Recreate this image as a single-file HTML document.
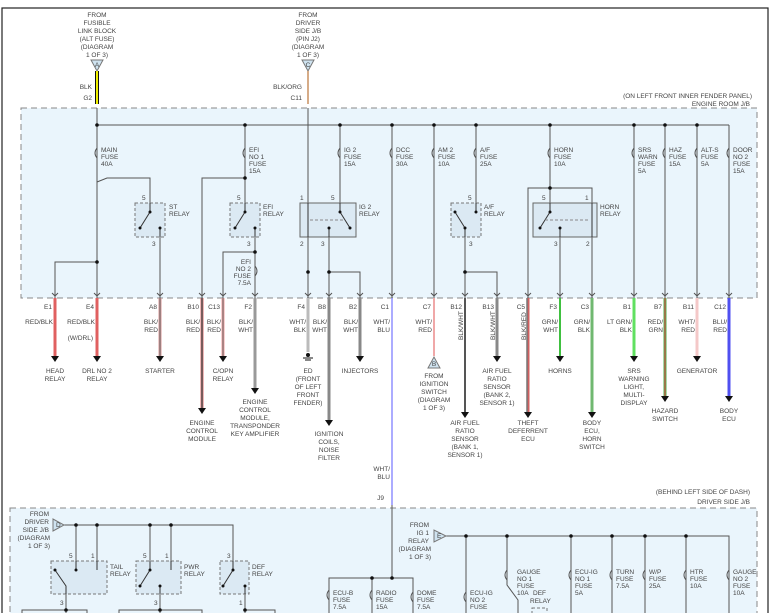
<!DOCTYPE html>
<html><head><meta charset="utf-8"><style>
html,body{margin:0;padding:0;background:#fff;}
svg{display:block;}
text{font-family:"Liberation Sans",sans-serif;font-size:6.5px;fill:#444;}
</style></head><body>
<svg width="771" height="613" viewBox="0 0 771 613" xmlns="http://www.w3.org/2000/svg">
<rect x="2" y="8" width="766" height="610" fill="none" stroke="#222" stroke-width="1.2"/>
<rect x="21" y="108" width="736" height="190" fill="#eaf5fc" stroke="#888" stroke-dasharray="6,4"/>
<rect x="10" y="508" width="747" height="110" fill="#eaf5fc" stroke="#888" stroke-dasharray="6,4"/>

<g text-anchor="middle">
<text x="97" y="17">FROM</text><text x="97" y="25">FUSIBLE</text><text x="97" y="33">LINK BLOCK</text><text x="97" y="41">(ALT FUSE)</text><text x="97" y="49">(DIAGRAM</text><text x="97" y="57">1 OF 3)</text>
<text x="308" y="17">FROM</text><text x="308" y="25">DRIVER</text><text x="308" y="33">SIDE J/B</text><text x="308" y="41">(PIN J2)</text><text x="308" y="49">(DIAGRAM</text><text x="308" y="57">1 OF 3)</text>
</g>
<path d="M91,60 L103,60 L97,71z" fill="#cfe3f0" stroke="#777"/><text x="97" y="67" text-anchor="middle" font-size="5">A</text>
<path d="M302,60 L314,60 L308,71z" fill="#cfe3f0" stroke="#777"/><text x="308" y="67" text-anchor="middle" font-size="5">C</text>
<line x1="97" y1="71" x2="97" y2="104" stroke="#111" stroke-width="4"/>
<line x1="97" y1="71" x2="97" y2="104" stroke="#f0f000" stroke-width="2"/>
<line x1="308" y1="71" x2="308" y2="104" stroke="#c89060" stroke-width="1.5"/>
<text x="92" y="89" text-anchor="end">BLK</text><text x="92" y="100" text-anchor="end">G2</text>
<text x="302" y="89" text-anchor="end">BLK/ORG</text><text x="302" y="100" text-anchor="end">C11</text>
<text x="752" y="98" text-anchor="end">(ON LEFT FRONT INNER FENDER PANEL)</text>
<text x="750" y="106" text-anchor="end">ENGINE ROOM J/B</text>

<g stroke="#555" stroke-width="1" fill="none">
<line x1="97" y1="108" x2="97" y2="298"/>
<line x1="97" y1="125" x2="729" y2="125"/>
<line x1="308" y1="108" x2="308" y2="298"/>
<path d="M97,182 L107,178 L150,178 L150,203"/>
<path d="M97,262 L55,262 L55,298"/>
<line x1="160" y1="227" x2="160" y2="298"/>
<line x1="245" y1="125" x2="245" y2="203"/>
<path d="M245,178 L202,178 L202,298"/>
<line x1="255" y1="237" x2="255" y2="298"/>
<path d="M255,252 L223,252 L223,298"/>
<line x1="340" y1="125" x2="340" y2="203"/>
<line x1="329" y1="237" x2="329" y2="298"/>
<path d="M329,272 L360,272 L360,298"/>
<line x1="392" y1="125" x2="392" y2="298"/>
<line x1="434" y1="125" x2="434" y2="298"/>
<line x1="476" y1="125" x2="476" y2="203"/>
<line x1="465" y1="237" x2="465" y2="298"/>
<path d="M465,272 L497,272 L497,298"/>
<line x1="550" y1="125" x2="550" y2="203"/>
<path d="M528,298 L528,188 L592,188 L592,203"/>
<line x1="560" y1="237" x2="560" y2="298"/>
<line x1="592" y1="237" x2="592" y2="298"/>
<line x1="634" y1="125" x2="634" y2="298"/>
<line x1="665" y1="125" x2="665" y2="298"/>
<line x1="697" y1="125" x2="697" y2="298"/>
<line x1="729" y1="125" x2="729" y2="298"/>
</g>
<g fill="#111">
<circle cx="97" cy="125" r="1.8"/><circle cx="245" cy="125" r="1.8"/><circle cx="340" cy="125" r="1.8"/><circle cx="392" cy="125" r="1.8"/><circle cx="434" cy="125" r="1.8"/><circle cx="476" cy="125" r="1.8"/><circle cx="550" cy="125" r="1.8"/><circle cx="634" cy="125" r="1.8"/><circle cx="665" cy="125" r="1.8"/><circle cx="697" cy="125" r="1.8"/>
<circle cx="97" cy="262" r="1.8"/><circle cx="245" cy="178" r="1.8"/><circle cx="255" cy="252" r="1.8"/><circle cx="308" cy="272" r="1.8"/><circle cx="329" cy="272" r="1.8"/><circle cx="465" cy="272" r="1.8"/><circle cx="550" cy="188" r="1.8"/>
</g>
<g fill="none" stroke="#555">
<path d="M97,148 q-4,5 0,10"/><path d="M245,148 q-4,5 0,10"/><path d="M340,148 q-4,5 0,10"/><path d="M392,148 q-4,5 0,10"/><path d="M434,148 q-4,5 0,10"/><path d="M476,148 q-4,5 0,10"/><path d="M550,148 q-4,5 0,10"/><path d="M634,148 q-4,5 0,10"/><path d="M665,148 q-4,5 0,10"/><path d="M697,148 q-4,5 0,10"/><path d="M729,148 q-4,5 0,10"/><path d="M255,266 q4,5 0,10"/>
</g>
<g font-size="6">
<text x="101" y="152">MAIN</text><text x="101" y="159">FUSE</text><text x="101" y="166">40A</text>
<text x="249" y="152">EFI</text><text x="249" y="159">NO 1</text><text x="249" y="166">FUSE</text><text x="249" y="173">15A</text>
<text x="344" y="152">IG 2</text><text x="344" y="159">FUSE</text><text x="344" y="166">15A</text>
<text x="396" y="152">DCC</text><text x="396" y="159">FUSE</text><text x="396" y="166">30A</text>
<text x="438" y="152">AM 2</text><text x="438" y="159">FUSE</text><text x="438" y="166">10A</text>
<text x="480" y="152">A/F</text><text x="480" y="159">FUSE</text><text x="480" y="166">25A</text>
<text x="554" y="152">HORN</text><text x="554" y="159">FUSE</text><text x="554" y="166">10A</text>
<text x="638" y="152">SRS</text><text x="638" y="159">WARN</text><text x="638" y="166">FUSE</text><text x="638" y="173">5A</text>
<text x="669" y="152">HAZ</text><text x="669" y="159">FUSE</text><text x="669" y="166">15A</text>
<text x="701" y="152">ALT-S</text><text x="701" y="159">FUSE</text><text x="701" y="166">5A</text>
<text x="733" y="152">DOOR</text><text x="733" y="159">NO 2</text><text x="733" y="166">FUSE</text><text x="733" y="173">15A</text>
<text x="251" y="264" text-anchor="end">EFI</text><text x="251" y="271" text-anchor="end">NO 2</text><text x="251" y="278" text-anchor="end">FUSE</text><text x="251" y="285" text-anchor="end">7.5A</text>
</g>
<g fill="none" stroke="#777" stroke-dasharray="3,2">
<rect x="135" y="203" width="30" height="34" fill="#dbe9f3"/>
<rect x="230" y="203" width="30" height="34" fill="#dbe9f3"/>
<rect x="451" y="203" width="30" height="34" fill="#dbe9f3"/>
</g>
<rect x="300" y="203" width="56" height="34" fill="#dbe9f3" stroke="#666"/>
<rect x="533" y="203" width="64" height="34" fill="#dbe9f3" stroke="#666"/>
<g stroke="#333" fill="none">
<path d="M150,203 L150,212"/><path d="M150,212 L140,228"/><line x1="160" y1="228" x2="160" y2="237"/>
<path d="M245,203 L245,212 L235,228"/><line x1="255" y1="228" x2="255" y2="237"/>
<path d="M308,203 L308,237"/><path d="M340,203 L340,212 L350,228"/><line x1="329" y1="228" x2="329" y2="237"/>
<line x1="310" y1="220" x2="345" y2="220" stroke-dasharray="3,2" stroke="#888"/>
<path d="M476,203 L476,212"/><path d="M455,212 L465,228 L465,237"/>
<path d="M550,203 L550,212 L540,228"/><line x1="560" y1="228" x2="560" y2="237"/><path d="M592,203 L592,237"/>
<line x1="545" y1="220" x2="590" y2="220" stroke-dasharray="3,2" stroke="#888"/>
</g>
<g fill="#111"><circle cx="150" cy="212" r="1.5"/><circle cx="140" cy="228" r="1.5"/><circle cx="160" cy="228" r="1.5"/><circle cx="245" cy="212" r="1.5"/><circle cx="235" cy="228" r="1.5"/><circle cx="255" cy="228" r="1.5"/><circle cx="340" cy="212" r="1.5"/><circle cx="350" cy="228" r="1.5"/><circle cx="329" cy="228" r="1.5"/><circle cx="476" cy="212" r="1.5"/><circle cx="455" cy="212" r="1.5"/><circle cx="465" cy="228" r="1.5"/><circle cx="550" cy="212" r="1.5"/><circle cx="540" cy="228" r="1.5"/><circle cx="560" cy="228" r="1.5"/></g>
<g font-size="6">
<text x="169" y="209">ST</text><text x="169" y="216">RELAY</text>
<text x="263" y="209">EFI</text><text x="263" y="216">RELAY</text>
<text x="359" y="209">IG 2</text><text x="359" y="216">RELAY</text>
<text x="484" y="209">A/F</text><text x="484" y="216">RELAY</text>
<text x="600" y="209">HORN</text><text x="600" y="216">RELAY</text>
<text x="142" y="200">5</text><text x="152" y="246">3</text><text x="237" y="200">5</text><text x="247" y="246">3</text>
<text x="300" y="200">1</text><text x="331" y="200">5</text><text x="300" y="246">2</text><text x="321" y="246">3</text>
<text x="468" y="200">5</text><text x="469" y="246">3</text><text x="542" y="200">5</text><text x="585" y="200">1</text><text x="554" y="246">3</text><text x="586" y="246">2</text>
</g>

<g text-anchor="end" font-size="6.5">
<text x="52" y="309">E1</text><text x="94" y="309">E4</text><text x="157" y="309">A8</text><text x="199" y="309">B10</text><text x="220" y="309">C13</text><text x="252" y="309">F2</text><text x="305" y="309">F4</text><text x="326" y="309">B8</text><text x="357" y="309">B2</text><text x="389" y="309">C1</text><text x="431" y="309">C7</text><text x="462" y="309">B12</text><text x="494" y="309">B13</text><text x="525" y="309">C5</text><text x="557" y="309">F3</text><text x="589" y="309">C3</text><text x="631" y="309">B1</text><text x="662" y="309">B7</text><text x="694" y="309">B11</text><text x="726" y="309">C12</text>
</g>
<g text-anchor="end" font-size="6.5">
<text x="53" y="324">RED/BLK</text><text x="95" y="324">RED/BLK</text><text x="93" y="340">(W/DRL)</text>
<text x="158" y="324">BLK/</text><text x="158" y="332">RED</text>
<text x="200" y="324">BLK/</text><text x="200" y="332">RED</text>
<text x="221" y="324">BLK/</text><text x="221" y="332">RED</text>
<text x="253" y="324">BLK/</text><text x="253" y="332">WHT</text>
<text x="306" y="324">WHT/</text><text x="306" y="332">BLK</text>
<text x="327" y="324">BLK/</text><text x="327" y="332">WHT</text>
<text x="358" y="324">BLK/</text><text x="358" y="332">WHT</text>
<text x="390" y="324">WHT/</text><text x="390" y="332">BLU</text>
<text x="432" y="324">WHT/</text><text x="432" y="332">RED</text>
<text x="558" y="324">GRN/</text><text x="558" y="332">WHT</text>
<text x="590" y="324">GRN/</text><text x="590" y="332">BLK</text>
<text x="632" y="324">LT GRN/</text><text x="632" y="332">BLK</text>
<text x="663" y="324">RED/</text><text x="663" y="332">GRN</text>
<text x="695" y="324">WHT/</text><text x="695" y="332">RED</text>
<text x="727" y="324">BLU/</text><text x="727" y="332">RED</text>
<text x="390" y="471">WHT/</text><text x="390" y="479">BLU</text>
</g>
<text transform="translate(463,340) rotate(-90)" font-size="6.5">BLK/WHT</text>
<text transform="translate(495,340) rotate(-90)" font-size="6.5">BLK/WHT</text>
<text transform="translate(526,340) rotate(-90)" font-size="6.5">BLK/RED</text>

<g fill="none">
<line x1="55" y1="298" x2="55" y2="356" stroke="#e06060" stroke-width="3"/>
<line x1="97" y1="298" x2="97" y2="356" stroke="#e06060" stroke-width="3"/>
<line x1="160" y1="298" x2="160" y2="356" stroke="#d89898" stroke-width="3"/>
<line x1="160" y1="298" x2="160" y2="356" stroke="#666" stroke-width="1"/>
<line x1="202" y1="298" x2="202" y2="408" stroke="#e07070" stroke-width="3"/>
<line x1="202" y1="298" x2="202" y2="408" stroke="#555" stroke-width="1.5"/>
<line x1="223" y1="298" x2="223" y2="356" stroke="#f0a0a0" stroke-width="3"/>
<line x1="223" y1="298" x2="223" y2="356" stroke="#666" stroke-width="1"/>
<line x1="255" y1="298" x2="255" y2="388" stroke="#999" stroke-width="3"/>
<line x1="308" y1="298" x2="308" y2="352" stroke="#bbb" stroke-width="3"/>
<line x1="329" y1="298" x2="329" y2="420" stroke="#888" stroke-width="3"/>
<line x1="360" y1="298" x2="360" y2="356" stroke="#888" stroke-width="3"/>
<line x1="392" y1="298" x2="392" y2="505" stroke="#9090ff" stroke-width="1.5"/>
<line x1="434" y1="298" x2="434" y2="356" stroke="#f0a8a8" stroke-width="2"/>
<line x1="465" y1="298" x2="465" y2="412" stroke="#555" stroke-width="2"/>
<line x1="497" y1="298" x2="497" y2="356" stroke="#888" stroke-width="3"/>
<line x1="528" y1="298" x2="528" y2="412" stroke="#d06060" stroke-width="3"/>
<line x1="527" y1="298" x2="527" y2="412" stroke="#777" stroke-width="1.5"/>
<line x1="560" y1="298" x2="560" y2="356" stroke="#40c040" stroke-width="2"/>
<line x1="592" y1="298" x2="592" y2="412" stroke="#70b870" stroke-width="3"/>
<line x1="634" y1="298" x2="634" y2="356" stroke="#60e060" stroke-width="3"/>
<line x1="665" y1="298" x2="665" y2="396" stroke="#50b050" stroke-width="3"/>
<line x1="665" y1="298" x2="665" y2="396" stroke="#e04040" stroke-width="1"/>
<line x1="697" y1="298" x2="697" y2="356" stroke="#f4c8c8" stroke-width="3"/>
<line x1="729" y1="298" x2="729" y2="396" stroke="#5050f0" stroke-width="3"/>
</g>
<g fill="#111">
<path d="M51,356h8l-4,6z"/><path d="M93,356h8l-4,6z"/><path d="M156,356h8l-4,6z"/><path d="M198,408h8l-4,6z"/><path d="M219,356h8l-4,6z"/><path d="M251,388h8l-4,6z"/><path d="M325,420h8l-4,6z"/><path d="M356,356h8l-4,6z"/><path d="M461,412h8l-4,6z"/><path d="M493,356h8l-4,6z"/><path d="M524,412h8l-4,6z"/><path d="M556,356h8l-4,6z"/><path d="M588,412h8l-4,6z"/><path d="M630,356h8l-4,6z"/><path d="M661,396h8l-4,6z"/><path d="M693,356h8l-4,6z"/><path d="M725,396h8l-4,6z"/>
<circle cx="308" cy="355" r="2"/>
</g>
<line x1="303" y1="358" x2="313" y2="358" stroke="#111"/><line x1="305" y1="360" x2="311" y2="360" stroke="#111"/>
<path d="M428,368 L440,368 L434,357z" fill="#cfe3f0" stroke="#777"/><text x="434" y="366" text-anchor="middle" font-size="5">B</text>
<g stroke="#555" fill="none">
<path d="M52,293 l3,3 l3,-3 M94,293 l3,3 l3,-3 M157,293 l3,3 l3,-3 M199,293 l3,3 l3,-3 M220,293 l3,3 l3,-3 M252,293 l3,3 l3,-3 M305,293 l3,3 l3,-3 M326,293 l3,3 l3,-3 M357,293 l3,3 l3,-3 M389,293 l3,3 l3,-3 M431,293 l3,3 l3,-3 M462,293 l3,3 l3,-3 M494,293 l3,3 l3,-3 M525,293 l3,3 l3,-3 M557,293 l3,3 l3,-3 M589,293 l3,3 l3,-3 M631,293 l3,3 l3,-3 M662,293 l3,3 l3,-3 M694,293 l3,3 l3,-3 M726,293 l3,3 l3,-3"/>
</g>
<g text-anchor="middle" font-size="6.5">
<text x="55" y="373">HEAD</text><text x="55" y="381">RELAY</text>
<text x="97" y="373">DRL NO 2</text><text x="97" y="381">RELAY</text>
<text x="160" y="373">STARTER</text>
<text x="223" y="373">C/OPN</text><text x="223" y="381">RELAY</text>
<text x="202" y="425">ENGINE</text><text x="202" y="433">CONTROL</text><text x="202" y="441">MODULE</text>
<text x="255" y="404">ENGINE</text><text x="255" y="412">CONTROL</text><text x="255" y="420">MODULE,</text><text x="255" y="428">TRANSPONDER</text><text x="255" y="436">KEY AMPLIFIER</text>
<text x="308" y="373">ED</text><text x="308" y="381">(FRONT</text><text x="308" y="389">OF LEFT</text><text x="308" y="397">FRONT</text><text x="308" y="405">FENDER)</text>
<text x="329" y="436">IGNITION</text><text x="329" y="444">COILS,</text><text x="329" y="452">NOISE</text><text x="329" y="460">FILTER</text>
<text x="360" y="373">INJECTORS</text>
<text x="434" y="378">FROM</text><text x="434" y="386">IGNITION</text><text x="434" y="394">SWITCH</text><text x="434" y="402">(DIAGRAM</text><text x="434" y="410">1 OF 3)</text>
<text x="465" y="425">AIR FUEL</text><text x="465" y="433">RATIO</text><text x="465" y="441">SENSOR</text><text x="465" y="449">(BANK 1,</text><text x="465" y="457">SENSOR 1)</text>
<text x="497" y="373">AIR FUEL</text><text x="497" y="381">RATIO</text><text x="497" y="389">SENSOR</text><text x="497" y="397">(BANK 2,</text><text x="497" y="405">SENSOR 1)</text>
<text x="528" y="425">THEFT</text><text x="528" y="433">DEFERRENT</text><text x="528" y="441">ECU</text>
<text x="560" y="373">HORNS</text>
<text x="592" y="425">BODY</text><text x="592" y="433">ECU,</text><text x="592" y="441">HORN</text><text x="592" y="449">SWITCH</text>
<text x="634" y="373">SRS</text><text x="634" y="381">WARNING</text><text x="634" y="389">LIGHT,</text><text x="634" y="397">MULTI-</text><text x="634" y="405">DISPLAY</text>
<text x="665" y="413">HAZARD</text><text x="665" y="421">SWITCH</text>
<text x="697" y="373">GENERATOR</text>
<text x="729" y="413">BODY</text><text x="729" y="421">ECU</text>
</g>

<text x="384" y="500" text-anchor="end">J9</text>
<text x="750" y="494" text-anchor="end">(BEHIND LEFT SIDE OF DASH)</text>
<text x="750" y="504" text-anchor="end">DRIVER SIDE J/B</text>
<g stroke="#555" fill="none">
<line x1="392" y1="505" x2="392" y2="578"/>
<path d="M329,613 L329,578 L413,578 L413,613"/><line x1="372" y1="578" x2="372" y2="613"/>
<path d="M63,525 L233,525 L233,561"/>
<line x1="76" y1="525" x2="76" y2="561"/><line x1="97" y1="525" x2="97" y2="561"/>
<line x1="150" y1="525" x2="150" y2="561"/><line x1="171" y1="525" x2="171" y2="561"/>
<line x1="66" y1="594" x2="66" y2="613"/><path d="M22,613 L22,610 L87,610 L87,613"/>
<line x1="160" y1="594" x2="160" y2="613"/><path d="M119,613 L119,610 L202,610 L202,613"/>
<line x1="245" y1="594" x2="245" y2="613"/><path d="M245,610 L275,610 L275,613"/>
<path d="M446,536 L729,536 L729,613"/>
<line x1="466" y1="536" x2="466" y2="613"/>
<path d="M507,536 L507,585 L518,600 L518,613"/>
<line x1="571" y1="536" x2="571" y2="613"/><line x1="612" y1="536" x2="612" y2="613"/><line x1="645" y1="536" x2="645" y2="613"/><line x1="686" y1="536" x2="686" y2="613"/>
<path d="M329,590 q-4,5 0,10 M372,590 q-4,5 0,10 M413,592 q-4,5 0,10 M466,592 q-4,5 0,10 M507,570 q-4,5 0,10 M571,570 q-4,5 0,10 M612,570 q-4,5 0,10 M645,570 q-4,5 0,10 M686,570 q-4,5 0,10 M729,570 q-4,5 0,10"/>
</g>
<rect x="532" y="608" width="15" height="8" fill="none" stroke="#777" stroke-dasharray="3,2"/>
<g fill="#111">
<circle cx="392" cy="578" r="1.8"/><circle cx="372" cy="578" r="1.8"/><circle cx="76" cy="525" r="1.8"/><circle cx="97" cy="525" r="1.8"/><circle cx="150" cy="525" r="1.8"/><circle cx="171" cy="525" r="1.8"/>
<circle cx="466" cy="536" r="1.8"/><circle cx="507" cy="536" r="1.8"/><circle cx="571" cy="536" r="1.8"/><circle cx="612" cy="536" r="1.8"/><circle cx="645" cy="536" r="1.8"/><circle cx="686" cy="536" r="1.8"/>
<circle cx="66" cy="610" r="1.8"/><circle cx="160" cy="610" r="1.8"/><circle cx="245" cy="610" r="1.8"/>
</g>
<path d="M53,519 L53,531 L64,525z" fill="#cfe3f0" stroke="#777"/><text x="56" y="527" font-size="5">D</text>
<path d="M434,530 L434,542 L446,536z" fill="#cfe3f0" stroke="#777"/><text x="437" y="538" font-size="5">E</text>
<g text-anchor="end">
<text x="49" y="516">FROM</text><text x="49" y="524">DRIVER</text><text x="49" y="532">SIDE J/B</text><text x="50" y="540">(DIAGRAM</text><text x="50" y="548">1 OF 3)</text>
<text x="429" y="527">FROM</text><text x="429" y="535">IG 1</text><text x="429" y="543">RELAY</text><text x="431" y="551">(DIAGRAM</text><text x="431" y="559">1 OF 3)</text>
</g>
<g fill="none" stroke="#777" stroke-dasharray="3,2">
<rect x="51" y="561" width="56" height="33" fill="#dbe9f3"/>
<rect x="136" y="561" width="45" height="33" fill="#dbe9f3"/>
<rect x="220" y="561" width="29" height="33" fill="#dbe9f3"/>
</g>
<g stroke="#333" fill="none">
<path d="M76,561 L76,570 M55,570 L66,586 L66,594 M97,561 L97,570"/>
<path d="M150,561 L150,570 L140,586 M171,561 L171,570 M160,586 L160,594"/>
<path d="M233,561 L233,570 L223,586 M245,586 L245,594"/>
</g>
<g fill="#111"><circle cx="76" cy="570" r="1.5"/><circle cx="55" cy="570" r="1.5"/><circle cx="150" cy="570" r="1.5"/><circle cx="140" cy="586" r="1.5"/><circle cx="160" cy="586" r="1.5"/><circle cx="233" cy="570" r="1.5"/><circle cx="223" cy="586" r="1.5"/><circle cx="245" cy="586" r="1.5"/></g>
<g font-size="6">
<text x="69" y="558">5</text><text x="91" y="558">1</text><text x="143" y="558">5</text><text x="165" y="558">1</text><text x="227" y="558">3</text>
<text x="60" y="605">3</text><text x="154" y="605">3</text><text x="239" y="605">1</text>
<text x="110" y="569">TAIL</text><text x="110" y="576">RELAY</text>
<text x="184" y="569">PWR</text><text x="184" y="576">RELAY</text>
<text x="252" y="569">DEF</text><text x="252" y="576">RELAY</text>
<text x="333" y="595">ECU-B</text><text x="333" y="602">FUSE</text><text x="333" y="609">7.5A</text>
<text x="376" y="595">RADIO</text><text x="376" y="602">FUSE</text><text x="376" y="609">15A</text>
<text x="417" y="595">DOME</text><text x="417" y="602">FUSE</text><text x="417" y="609">7.5A</text>
<text x="470" y="595">ECU-IG</text><text x="470" y="602">NO 2</text><text x="470" y="609">FUSE</text>
<text x="517" y="574">GAUGE</text><text x="517" y="581">NO 1</text><text x="517" y="588">FUSE</text><text x="517" y="595">10A</text>
<text x="533" y="595">DEF</text><text x="530" y="603">RELAY</text>
<text x="575" y="574">ECU-IG</text><text x="575" y="581">NO 1</text><text x="575" y="588">FUSE</text><text x="575" y="595">5A</text>
<text x="616" y="574">TURN</text><text x="616" y="581">FUSE</text><text x="616" y="588">7.5A</text>
<text x="649" y="574">W/P</text><text x="649" y="581">FUSE</text><text x="649" y="588">25A</text>
<text x="690" y="574">HTR</text><text x="690" y="581">FUSE</text><text x="690" y="588">10A</text>
<text x="733" y="574">GAUGE</text><text x="733" y="581">NO 2</text><text x="733" y="588">FUSE</text><text x="733" y="595">10A</text>
</g>
</svg>
</body></html>
